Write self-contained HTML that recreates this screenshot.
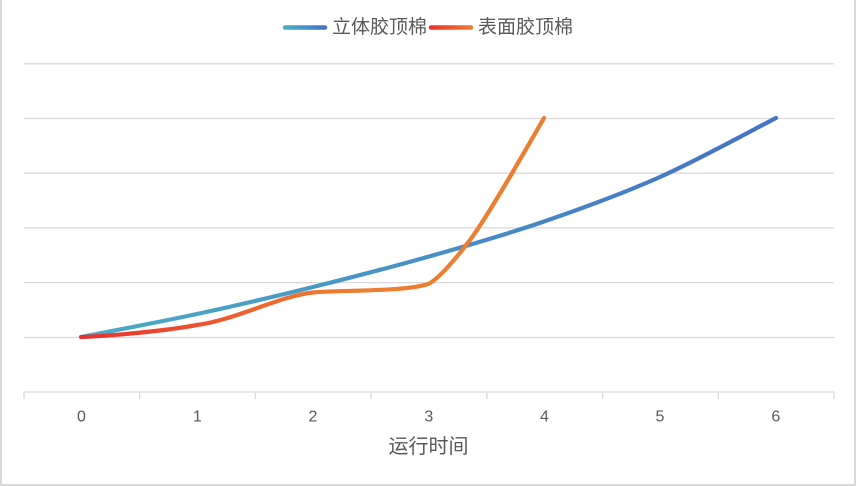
<!DOCTYPE html>
<html><head><meta charset="utf-8"><style>
html,body{margin:0;padding:0;background:#fff;}
svg{display:block;}
</style></head><body>
<svg width="856" height="486" viewBox="0 0 856 486" xmlns="http://www.w3.org/2000/svg">
<defs>
<linearGradient id="gb" gradientUnits="userSpaceOnUse" x1="81" y1="0" x2="776" y2="0">
<stop offset="0" stop-color="#4bacc6"/><stop offset="1" stop-color="#4472c4"/>
</linearGradient>
<linearGradient id="go" gradientUnits="userSpaceOnUse" x1="81" y1="0" x2="544" y2="0">
<stop offset="0" stop-color="#e8302f"/><stop offset="0.55" stop-color="#ed7d31"/><stop offset="1" stop-color="#ed7d31"/>
</linearGradient>
<linearGradient id="lb" gradientUnits="userSpaceOnUse" x1="283" y1="0" x2="327" y2="0">
<stop offset="0" stop-color="#4bacc6"/><stop offset="1" stop-color="#4472c4"/>
</linearGradient>
<linearGradient id="lo" gradientUnits="userSpaceOnUse" x1="429" y1="0" x2="473" y2="0">
<stop offset="0" stop-color="#e8302f"/><stop offset="1" stop-color="#ed7d31"/>
</linearGradient>
</defs>
<rect x="0" y="0" width="856" height="486" fill="#fff"/>
<!-- border -->
<rect x="0" y="0" width="2" height="486" fill="#d9d9d9"/>
<rect x="854" y="0" width="2" height="486" fill="#d9d9d9"/>
<rect x="0" y="484" width="856" height="2" fill="#d9d9d9"/>
<!-- gridlines -->
<g stroke="#d9d9d9" stroke-width="1.3">
<line x1="24" y1="63.8" x2="834" y2="63.8"/>
<line x1="24" y1="118.5" x2="834" y2="118.5"/>
<line x1="24" y1="173.2" x2="834" y2="173.2"/>
<line x1="24" y1="227.9" x2="834" y2="227.9"/>
<line x1="24" y1="282.6" x2="834" y2="282.6"/>
<line x1="24" y1="337.5" x2="834" y2="337.5"/>
<line x1="24" y1="392" x2="834" y2="392"/>
<line x1="24" y1="392" x2="24" y2="399"/>
<line x1="139.7" y1="392" x2="139.7" y2="399"/>
<line x1="255.4" y1="392" x2="255.4" y2="399"/>
<line x1="371.1" y1="392" x2="371.1" y2="399"/>
<line x1="486.9" y1="392" x2="486.9" y2="399"/>
<line x1="602.6" y1="392" x2="602.6" y2="399"/>
<line x1="718.3" y1="392" x2="718.3" y2="399"/>
<line x1="834" y1="392" x2="834" y2="399"/>
</g>
<!-- tick labels -->
<g font-family="Liberation Sans, sans-serif" font-size="16" fill="#595959" text-anchor="middle">
<text x="81.5" y="421.5">0</text>
<text x="197.3" y="421.5">1</text>
<text x="313" y="421.5">2</text>
<text x="428.8" y="421.5">3</text>
<text x="544.5" y="421.5">4</text>
<text x="660" y="421.5">5</text>
<text x="775.8" y="421.5">6</text>
</g>
<text x="428.5" y="447" font-family="Liberation Sans, Noto Sans CJK SC, sans-serif" font-size="20" fill="#595959" text-anchor="middle" dominant-baseline="central">运行时间</text>
<!-- legend -->
<line x1="285" y1="27.5" x2="325" y2="27.5" stroke="url(#lb)" stroke-width="4.5" stroke-linecap="round"/>
<text x="332" y="27.5" font-family="Liberation Sans, Noto Sans CJK SC, sans-serif" font-size="19" fill="#595959" dominant-baseline="central">立体胶顶棉</text>
<line x1="431" y1="27.5" x2="471" y2="27.5" stroke="url(#lo)" stroke-width="4.5" stroke-linecap="round"/>
<text x="478" y="27.5" font-family="Liberation Sans, Noto Sans CJK SC, sans-serif" font-size="19" fill="#595959" dominant-baseline="central">表面胶顶棉</text>
<!-- series -->
<path d="M81,337 C100.3,333.2 158.3,322.3 197,314 C235.7,305.7 274.3,296.6 313,287 C351.7,277.4 390.5,267.4 429,256.5 C467.5,245.6 505.5,234.75 544,221.5 C582.5,208.25 621.3,194.25 660,177 C698.7,159.75 756.7,127.8 776,118" fill="none" stroke="url(#gb)" stroke-width="4.2" stroke-linecap="round" stroke-linejoin="round"/>
<path d="M81,337 C110,336 165,331 197,325 C235,320 280,296 313,292.5 C335,290 405,292 428,284 C438,280 458,256 470,240 C490,213.3 530,142 544,118" fill="none" stroke="url(#go)" stroke-width="4.2" stroke-linecap="round" stroke-linejoin="round"/>
</svg>
</body></html>
